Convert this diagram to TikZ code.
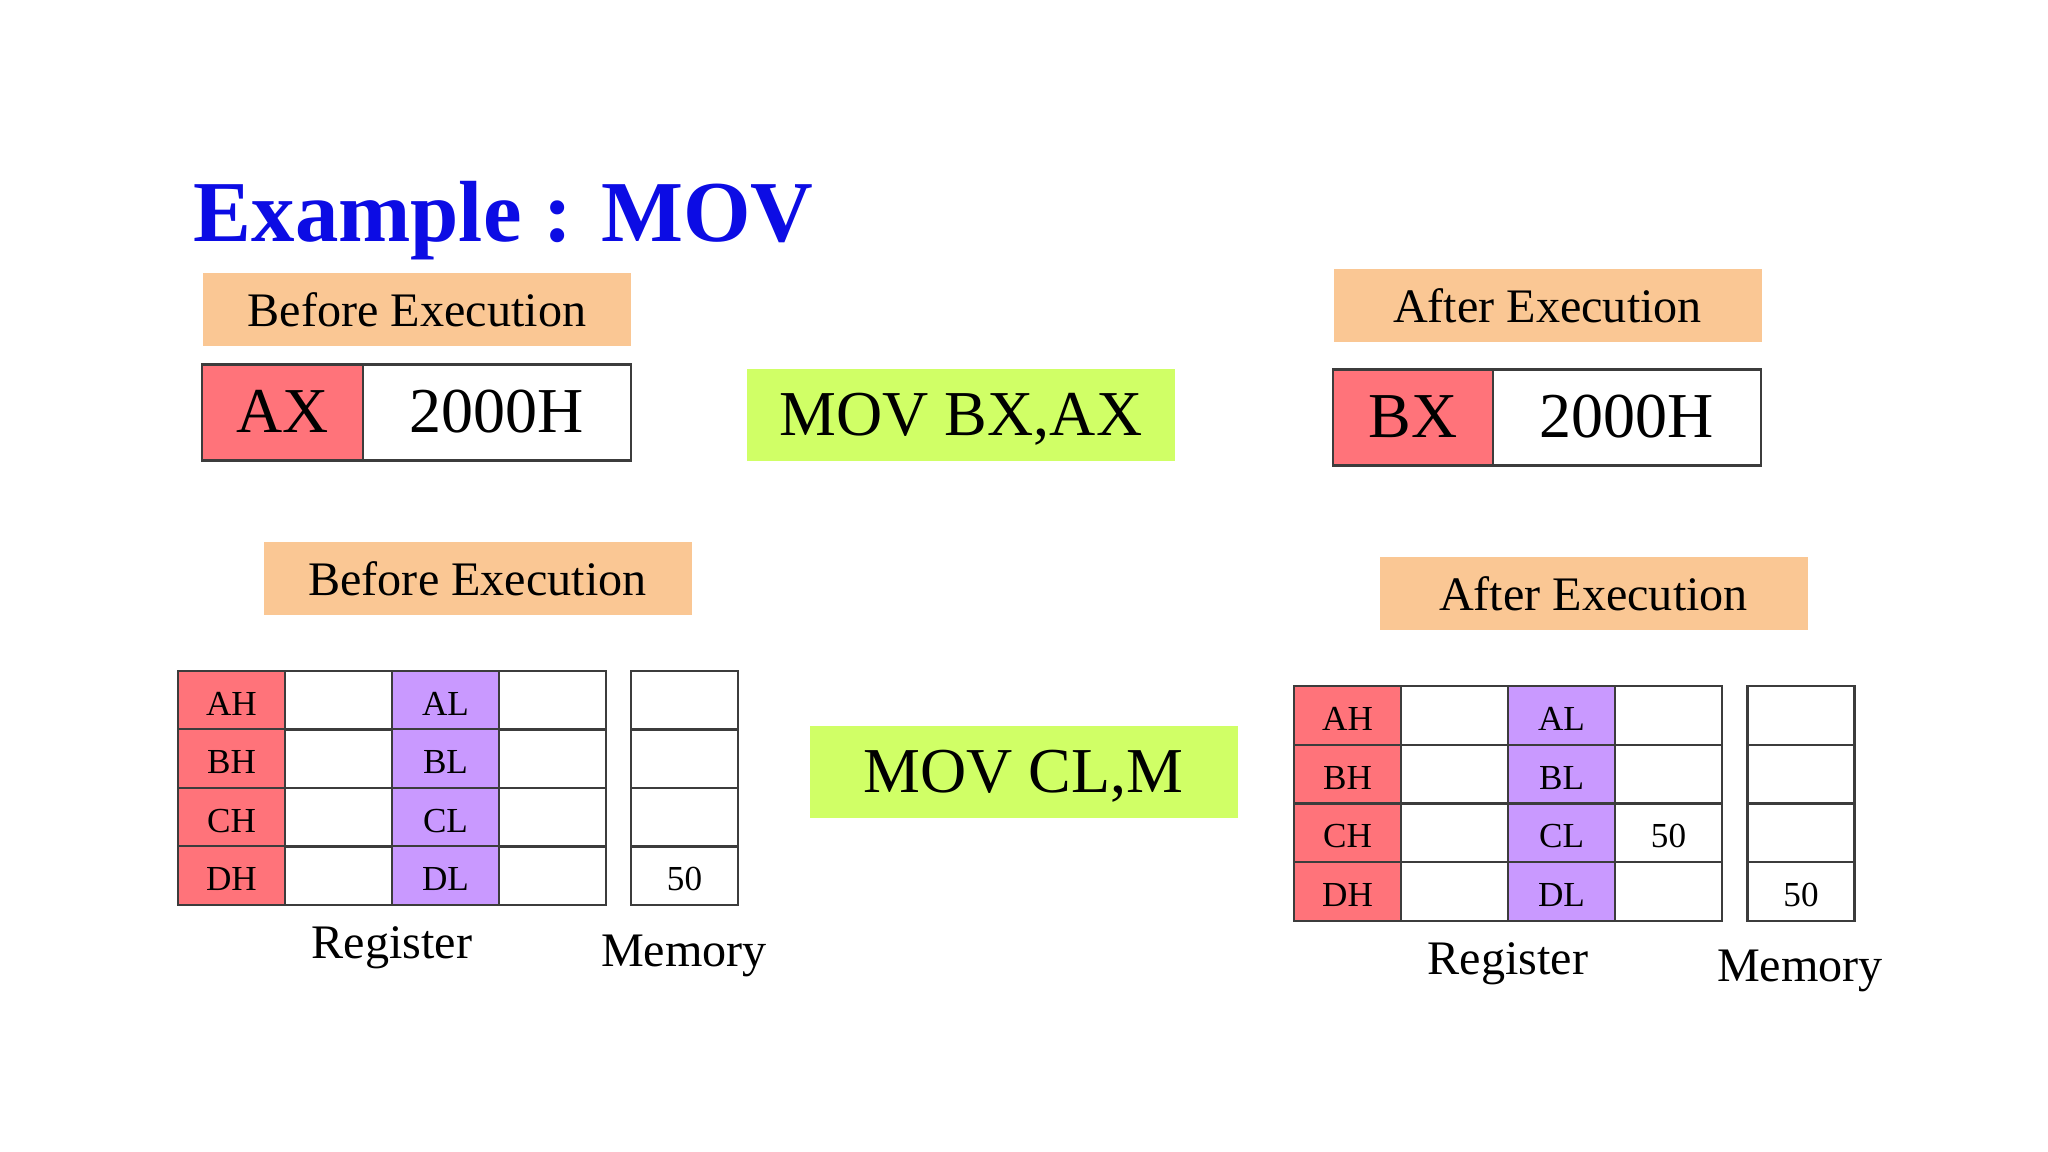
\documentclass[tikz,border=0pt]{standalone}
\usepackage{fontspec}
\setmainfont{Liberation Serif}
\definecolor{titleblue}{RGB}{12,12,228}
\definecolor{stageorange}{RGB}{250,199,148}
\definecolor{regred}{RGB}{255,115,122}
\definecolor{regpurple}{RGB}{201,153,255}
\definecolor{instrgreen}{RGB}{208,255,102}
\definecolor{cellline}{RGB}{60,60,60}
\usetikzlibrary{positioning}

\begin{document}
\begin{tikzpicture}[x=0.1mm, y=-0.1mm,
    stage/.style={fill=stageorange, minimum width=42.8mm, minimum height=7.3mm,
      inner sep=0pt, font=\fontsize{13.7}{16}\selectfont},
    instr/.style={fill=instrgreen, minimum width=42.8mm, minimum height=9.2mm,
      inner sep=0pt, text depth=0.5pt, font=\fontsize{18.2}{22}\selectfont},
    bigcell/.style={draw=cellline, line width=0.6pt, minimum height=9.6mm,
      inner sep=0pt, text depth=0.5pt, font=\fontsize{18.2}{22}\selectfont},
    cell/.style={draw=cellline, line width=0.6pt, minimum width=10.7mm,
      minimum height=5.87mm, inner sep=0pt, text height=8.5pt, text depth=0pt,
      font=\fontsize{10}{12}\selectfont},
    caption/.style={inner sep=0pt, font=\fontsize{13.7}{16}\selectfont}]
  \useasboundingbox (0,0) rectangle (2048,1152);

  % title
  \node[anchor=base west, inner sep=0pt, text=titleblue,
    font=\fontsize{24.7}{30}\selectfont\bfseries] (title) at (193,242) {Example : MOV};

  % MOV BX,AX
  \node[stage] (before1) at (417,310) {Before Execution};
  \node[bigcell, fill=regred, minimum width=16.1mm] (ax) at (282.5,412.5) {AX};
  \node[bigcell, fill=white, minimum width=26.8mm] (axval) at (497,412.5) {2000H};

  \node[instr] (movbx) at (961,415.5) {MOV BX,AX};

  \node[stage] (after1) at (1547.5,305.5) {After Execution};
  \node[bigcell, fill=regred, minimum width=16.0mm] (bx) at (1413,417.5) {BX};
  \node[bigcell, fill=white, minimum width=26.8mm] (bxval) at (1627,417.5) {2000H};

  % MOV CL,M : before
  \node[stage] (before2) at (477.5,578.5) {Before Execution};
  \foreach \reg/\mv [count=\i from 0] in {A/{}, B/{}, C/{}, D/50} {
    \node[cell, fill=regred] (b\reg H) at (231.5,{700.25+58.5*\i}) {\reg H};
    \node[cell] (b\reg Hv) at (338.5,{700.25+58.5*\i}) {};
    \node[cell, fill=regpurple] (b\reg L) at (445.5,{700.25+58.5*\i}) {\reg L};
    \node[cell] (b\reg Lv) at (552.5,{700.25+58.5*\i}) {};
    \node[cell] (bmem\i) at (684.5,{700.25+58.5*\i}) {\mv};
  }
  \node[caption] (bregcap) at (392,948) {Register};
  \node[caption] (bmemcap) at (684,956) {Memory};

  \node[instr] (movcl) at (1023.5,772) {MOV CL,M};

  % MOV CL,M : after
  \node[stage] (after2) at (1593.5,593.5) {After Execution};
  \foreach \reg/\lv/\mv [count=\i from 0] in {A/{}/{}, B/{}/{}, C/50/{}, D/{}/50} {
    \node[cell, fill=regred] (a\reg H) at (1347.5,{715.4+58.75*\i}) {\reg H};
    \node[cell] (a\reg Hv) at (1454.5,{715.4+58.75*\i}) {};
    \node[cell, fill=regpurple] (a\reg L) at (1561.5,{715.4+58.75*\i}) {\reg L};
    \node[cell] (a\reg Lv) at (1668.5,{715.4+58.75*\i}) {\lv};
    \node[cell] (amem\i) at (1801,{715.4+58.75*\i}) {\mv};
  }
  \node[caption] (aregcap) at (1508,964) {Register};
  \node[caption] (amemcap) at (1800,971) {Memory};
\end{tikzpicture}
\end{document}
